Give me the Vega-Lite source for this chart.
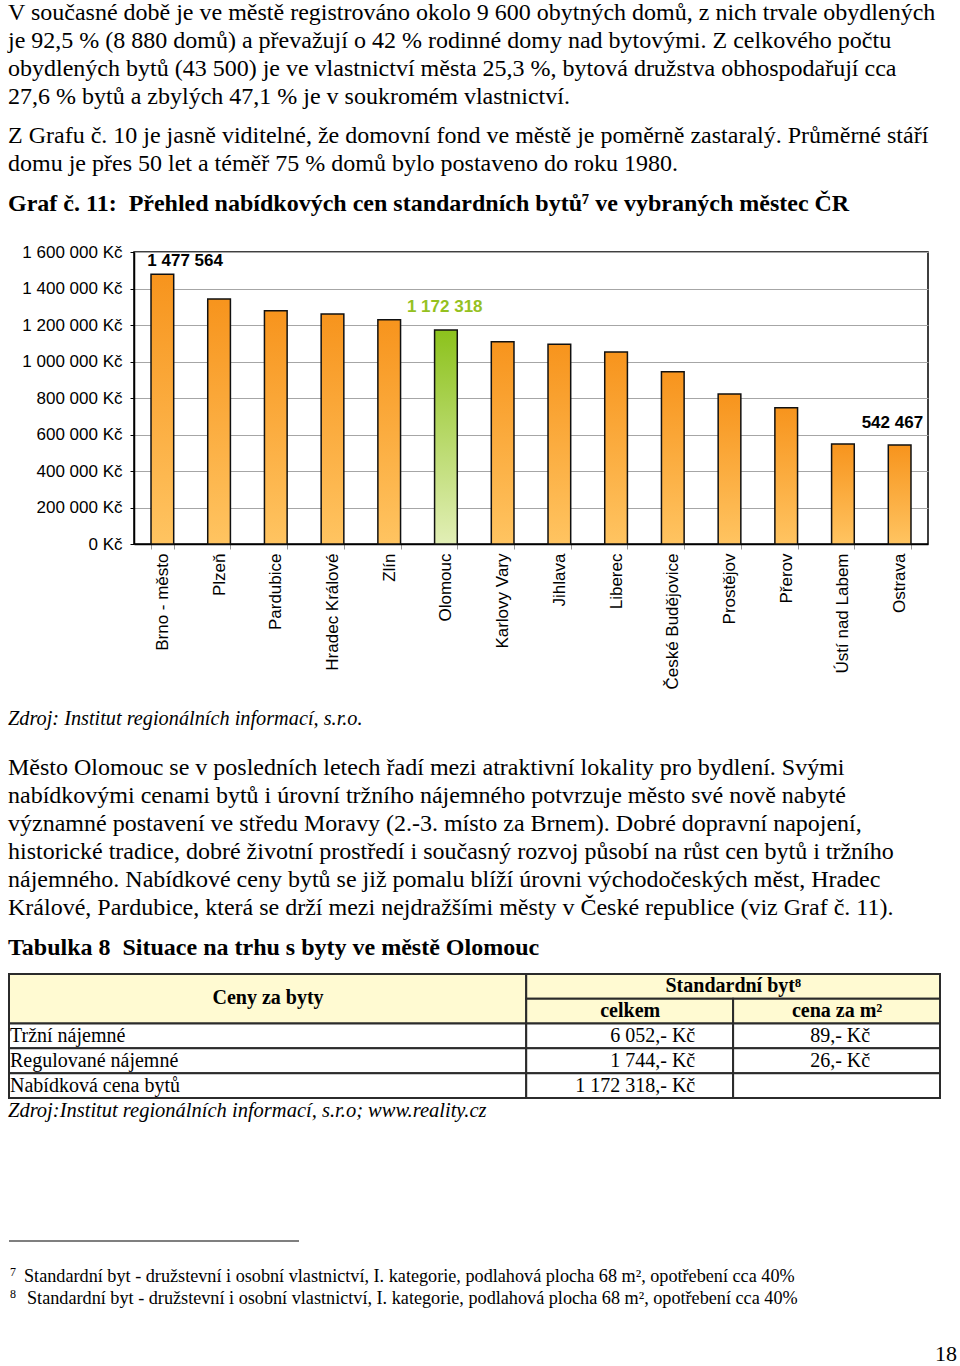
{
  "$schema": "https://vega.github.io/schema/vega-lite/v6.json",
  "background": "white",
  "padding": {"left": 8, "top": 0, "right": 0, "bottom": 0},
  "spacing": 0,
  "bounds": "flush",
  "config": {
    "view": {"stroke": null},
    "locale": {"number": {"decimal": ",", "thousands": " ", "grouping": [3], "currency": ["", " Kč"]}},
    "text": {"font": "Liberation Serif", "fontSize": 24, "color": "#000", "align": "left", "baseline": "middle"}
  },
  "vconcat": [
    {
      "width": 794,
      "height": {"step": 28},
      "data": {"values": [
        {"block": "p1", "line": 0, "text": "V současné době je ve městě registrováno okolo 9 600 obytných domů, z nich trvale obydlených"},
        {"block": "p1", "line": 1, "text": "je 92,5 % (8 880 domů) a převažují o 42 % rodinné domy nad bytovými. Z celkového počtu"},
        {"block": "p1", "line": 2, "text": "obydlených bytů (43 500) je ve vlastnictví města 25,3 %, bytová družstva obhospodařují cca"},
        {"block": "p1", "line": 3, "text": "27,6 % bytů a zbylých 47,1 % je v soukromém vlastnictví."},
        {"block": "p2", "line": 4, "text": "Z Grafu č. 10 je jasně viditelné, že domovní fond ve městě je poměrně zastaralý. Průměrné stáří"},
        {"block": "p2", "line": 5, "text": "domu je přes 50 let a téměř 75 % domů bylo postaveno do roku 1980."},
        {"block": "h", "line": 6, "text": "Graf č. 11:\u00a0 Přehled nabídkových cen standardních bytů⁷ ve vybraných městec ČR"}
      ]},
      "encoding": {
        "y": {"field": "line", "type": "ordinal", "scale": {"type": "point", "domain": [0, 1, 2, 3, 4, 5, 6, 7, 8], "padding": 0.5}, "axis": null},
        "x": {"value": -126},
        "text": {"field": "text"}
      },
      "layer": [
        {"transform": [{"filter": "datum.block === 'p1'"}], "mark": {"type": "text", "dy": -1}},
        {"transform": [{"filter": "datum.block === 'p2'"}], "mark": {"type": "text", "dy": 10}},
        {"transform": [{"filter": "datum.block === 'h'"}], "mark": {"type": "text", "dy": 22, "fontWeight": "bold"}}
      ]
    },
    {
      "width": 794,
      "height": 292,
      "view": {"stroke": "#000", "strokeWidth": 1.5},
      "data": {"values": [
        {"city": "Brno - město", "price": 1477564},
        {"city": "Plzeň", "price": 1342000},
        {"city": "Pardubice", "price": 1278000},
        {"city": "Hradec Králové", "price": 1260000},
        {"city": "Zlín", "price": 1229000},
        {"city": "Olomouc", "price": 1172318},
        {"city": "Karlovy Vary", "price": 1108000},
        {"city": "Jihlava", "price": 1094000},
        {"city": "Liberec", "price": 1052000},
        {"city": "České Budějovice", "price": 944000},
        {"city": "Prostějov", "price": 822000},
        {"city": "Přerov", "price": 747000},
        {"city": "Ústí nad Labem", "price": 548000},
        {"city": "Ostrava", "price": 542467}
      ]},
      "encoding": {
        "x": {
          "field": "city", "type": "nominal", "sort": null,
          "scale": {"paddingInner": 0.6, "paddingOuter": 0.3},
          "axis": {"title": null, "labelAngle": -90, "labelFont": "Liberation Sans", "labelFontSize": 17, "labelColor": "#000", "labelPadding": 4, "labelOverlap": false, "labelLimit": 300, "tickBand": "extent", "tickSize": 5, "tickColor": "#999", "domainColor": "#000", "domainWidth": 1.5}
        },
        "y": {
          "field": "price", "type": "quantitative",
          "scale": {"domain": [0, 1600000], "nice": false},
          "axis": {"title": null, "values": [0, 200000, 400000, 600000, 800000, 1000000, 1200000, 1400000, 1600000], "format": "$,d", "labelFont": "Liberation Sans", "labelFontSize": 17, "labelColor": "#000", "labelPadding": 8, "tickSize": 4, "tickColor": "#000", "domainColor": "#000", "domainWidth": 1.5, "gridColor": "#a6a6a6", "gridWidth": 1}
        }
      },
      "layer": [
        {
          "mark": {"type": "bar", "stroke": "#111", "strokeWidth": 1.5},
          "encoding": {
            "fill": {
              "condition": {"test": "datum.city === 'Olomouc'", "value": {"gradient": "linear", "x1": 0, "y1": 0, "x2": 0, "y2": 1, "stops": [{"offset": 0, "color": "#8CC21C"}, {"offset": 1, "color": "#E2EFB6"}]}},
              "value": {"gradient": "linear", "x1": 0, "y1": 0, "x2": 0, "y2": 1, "stops": [{"offset": 0, "color": "#F7941D"}, {"offset": 1, "color": "#FFC461"}]}
            }
          }
        },
        {
          "transform": [{"filter": "datum.city === 'Brno - město'"}],
          "mark": {"type": "text", "font": "Liberation Sans", "fontWeight": "bold", "fontSize": 17, "align": "left", "baseline": "bottom", "dx": -15, "dy": -4, "color": "#000"},
          "encoding": {"text": {"field": "price", "type": "quantitative", "format": ",d"}}
        },
        {
          "transform": [{"filter": "datum.city === 'Olomouc'"}],
          "mark": {"type": "text", "font": "Liberation Sans", "fontWeight": "bold", "fontSize": 17, "align": "left", "baseline": "bottom", "dx": -39, "dy": -14, "color": "#95C11F"},
          "encoding": {"text": {"field": "price", "type": "quantitative", "format": ",d"}}
        },
        {
          "transform": [{"filter": "datum.city === 'Ostrava'"}],
          "mark": {"type": "text", "font": "Liberation Sans", "fontWeight": "bold", "fontSize": 17, "align": "left", "baseline": "bottom", "dx": -38, "dy": -13, "color": "#000"},
          "encoding": {"text": {"field": "price", "type": "quantitative", "format": ",d"}}
        }
      ]
    },
    {
      "width": 794,
      "height": {"step": 28},
      "data": {"values": [
        {"block": "src", "line": 6, "text": "Zdroj: Institut regionálních informací, s.r.o."},
        {"block": "p3", "line": 7, "text": "Město Olomouc se v posledních letech řadí mezi atraktivní lokality pro bydlení. Svými"},
        {"block": "p3", "line": 8, "text": "nabídkovými cenami bytů i úrovní tržního nájemného potvrzuje město své nově nabyté"},
        {"block": "p3", "line": 9, "text": "významné postavení ve středu Moravy (2.-3. místo za Brnem). Dobré dopravní napojení,"},
        {"block": "p3", "line": 10, "text": "historické tradice, dobré životní prostředí i současný rozvoj působí na růst cen bytů i tržního"},
        {"block": "p3", "line": 11, "text": "nájemného. Nabídkové ceny bytů se již pomalu blíží úrovni východočeských měst, Hradec"},
        {"block": "p3", "line": 12, "text": "Králové, Pardubice, která se drží mezi nejdražšími městy v České republice (viz Graf č. 11)."},
        {"block": "h", "line": 14, "text": "Tabulka 8\u00a0 Situace na trhu s byty ve městě Olomouc"}
      ]},
      "encoding": {
        "y": {"field": "line", "type": "ordinal", "scale": {"type": "point", "domain": [0, 1, 2, 3, 4, 5, 6, 7, 8, 9, 10, 11, 12, 13, 14], "padding": 0.5}, "axis": null},
        "x": {"value": -126},
        "text": {"field": "text"}
      },
      "layer": [
        {"transform": [{"filter": "datum.block === 'src'"}], "mark": {"type": "text", "dy": -7, "fontStyle": "italic", "fontSize": 20.3}},
        {"transform": [{"filter": "datum.block === 'p3'"}], "mark": {"type": "text", "dy": 14}},
        {"transform": [{"filter": "datum.block === 'h'"}], "mark": {"type": "text", "dy": -2, "fontWeight": "bold"}}
      ]
    },
    {
      "width": 794,
      "height": 134,
      "data": {"values": [
        {"r0": 0, "r1": 2, "c0": 0, "c1": 2.5, "kind": "h0", "text": "Ceny za byty"},
        {"r0": 2, "r1": 3, "c0": 0, "c1": 2.5, "kind": "lab", "text": "Tržní nájemné"},
        {"r0": 3, "r1": 4, "c0": 0, "c1": 2.5, "kind": "lab", "text": "Regulované nájemné"},
        {"r0": 4, "r1": 5, "c0": 0, "c1": 2.5, "kind": "lab", "text": "Nabídková cena bytů"},
        {"r0": 0, "r1": 1, "c0": 2.5, "c1": 4.5, "kind": "h1", "text": "Standardní byt⁸"},
        {"r0": 1, "r1": 2, "c0": 2.5, "c1": 3.5, "kind": "h2", "text": "celkem"},
        {"r0": 1, "r1": 2, "c0": 3.5, "c1": 4.5, "kind": "h2", "text": "cena za m²"},
        {"r0": 2, "r1": 3, "c0": 2.5, "c1": 3.5, "kind": "v2", "text": "6 052,- Kč"},
        {"r0": 2, "r1": 3, "c0": 3.5, "c1": 4.5, "kind": "v3", "text": "89,- Kč"},
        {"r0": 3, "r1": 4, "c0": 2.5, "c1": 3.5, "kind": "v2", "text": "1 744,- Kč"},
        {"r0": 3, "r1": 4, "c0": 3.5, "c1": 4.5, "kind": "v3", "text": "26,- Kč"},
        {"r0": 4, "r1": 5, "c0": 2.5, "c1": 3.5, "kind": "v2", "text": "1 172 318,- Kč"},
        {"r0": 4, "r1": 5, "c0": 3.5, "c1": 4.5, "kind": "v3", "text": ""}
      ]},
      "encoding": {
        "y": {"field": "r0", "type": "quantitative", "scale": {"domain": [-0.4, 5], "reverse": true, "nice": false, "zero": false}, "axis": null},
        "x": {"field": "c0", "type": "quantitative", "scale": {"domain": [0, 4.5], "range": [-125, 806], "nice": false, "zero": false}, "axis": null}
      },
      "layer": [
        {
          "mark": {"type": "rect", "stroke": "#2b2b2b", "strokeWidth": 2},
          "encoding": {
            "x2": {"field": "c1"},
            "y2": {"field": "r1"},
            "fill": {"condition": {"test": "datum.kind === 'h0' || datum.kind === 'h1' || datum.kind === 'h2'", "value": "#FFFAD2"}, "value": "#ffffff"}
          }
        },
        {
          "transform": [{"filter": "datum.kind === 'h0'"}],
          "mark": {"type": "text", "align": "center", "fontWeight": "bold", "fontSize": 20, "dx": 259, "dy": 24},
          "encoding": {"text": {"field": "text"}}
        },
        {
          "transform": [{"filter": "datum.kind === 'lab'"}],
          "mark": {"type": "text", "align": "left", "fontSize": 20, "dx": 1, "dy": 12.5},
          "encoding": {"text": {"field": "text"}}
        },
        {
          "transform": [{"filter": "datum.kind === 'h1'"}],
          "mark": {"type": "text", "align": "center", "fontWeight": "bold", "fontSize": 20, "dx": 207, "dy": 12.5},
          "encoding": {"text": {"field": "text"}}
        },
        {
          "transform": [{"filter": "datum.kind === 'h2'"}],
          "mark": {"type": "text", "align": "center", "fontWeight": "bold", "fontSize": 20, "dx": 104, "dy": 12.5},
          "encoding": {"text": {"field": "text"}}
        },
        {
          "transform": [{"filter": "datum.kind === 'v2'"}],
          "mark": {"type": "text", "align": "right", "fontSize": 20, "dx": 169, "dy": 12.5},
          "encoding": {"text": {"field": "text"}}
        },
        {
          "transform": [{"filter": "datum.kind === 'v3'"}],
          "mark": {"type": "text", "align": "center", "fontSize": 20, "dx": 107, "dy": 12.5},
          "encoding": {"text": {"field": "text"}}
        }
      ]
    },
    {
      "width": 794,
      "height": {"step": 22},
      "data": {"values": [
        {"block": "src", "line": 0, "text": "Zdroj:Institut regionálních informací, s.r.o; www.reality.cz"},
        {"block": "sep", "line": 6, "text": ""},
        {"block": "fnum", "line": 8, "text": "7"},
        {"block": "fn1", "line": 8, "text": "Standardní byt - družstevní i osobní vlastnictví, I. kategorie, podlahová plocha 68 m², opotřebení cca 40%"},
        {"block": "fnum", "line": 9, "text": "8"},
        {"block": "fn2", "line": 9, "text": "Standardní byt - družstevní i osobní vlastnictví, I. kategorie, podlahová plocha 68 m², opotřebení cca 40%"},
        {"block": "page", "line": 11, "text": "18"}
      ]},
      "encoding": {
        "y": {"field": "line", "type": "ordinal", "scale": {"type": "point", "domain": [0, 1, 2, 3, 4, 5, 6, 7, 8, 9, 10, 11, 12], "padding": 0.5}, "axis": null}
      },
      "layer": [
        {"transform": [{"filter": "datum.block === 'src'"}], "mark": {"type": "text", "dy": 2, "fontStyle": "italic", "fontSize": 20.5}, "encoding": {"x": {"value": -126}, "text": {"field": "text"}}},
        {"transform": [{"filter": "datum.block === 'sep'"}], "mark": {"type": "rule", "color": "#000", "strokeWidth": 1.2}, "encoding": {"x": {"value": -125}, "x2": {"value": 165}}},
        {"transform": [{"filter": "datum.block === 'fnum'"}], "mark": {"type": "text", "dy": -13, "dx": 2, "fontSize": 12}, "encoding": {"x": {"value": -126}, "text": {"field": "text"}}},
        {"transform": [{"filter": "datum.block === 'fn1'"}], "mark": {"type": "text", "dy": -8, "dx": 16, "fontSize": 18.2}, "encoding": {"x": {"value": -126}, "text": {"field": "text"}}},
        {"transform": [{"filter": "datum.block === 'fn2'"}], "mark": {"type": "text", "dy": -8, "dx": 19, "fontSize": 18.2}, "encoding": {"x": {"value": -126}, "text": {"field": "text"}}},
        {"transform": [{"filter": "datum.block === 'page'"}], "mark": {"type": "text", "dy": 3, "align": "right", "fontSize": 22}, "encoding": {"x": {"value": 823}, "text": {"field": "text"}}}
      ]
    }
  ]
}
